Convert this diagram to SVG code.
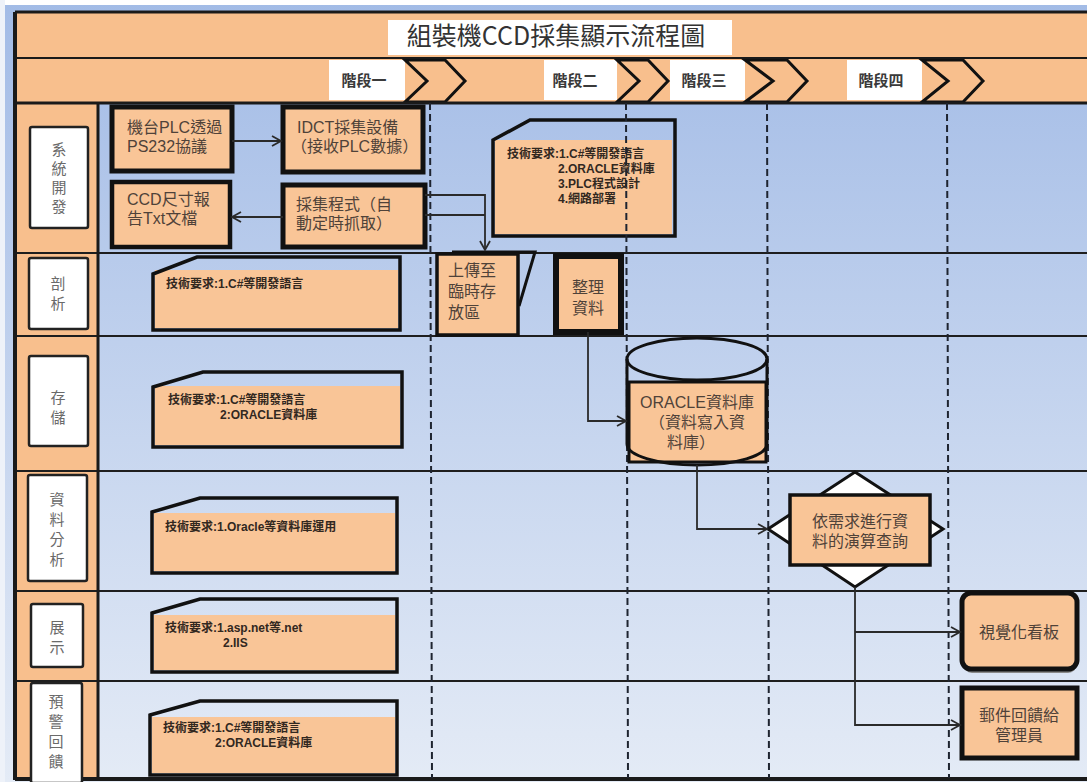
<svg xmlns="http://www.w3.org/2000/svg" width="1087" height="782" viewBox="0 0 1087 782">
<style>
.band{fill:#f8bf8d}
.org{fill:#f9c597}
.ln{stroke:#1a1a1a;fill:none}
.lane{stroke:#1e1e1e;stroke-width:2}
.dash{stroke:#1e2430;stroke-width:2;stroke-dasharray:7 4;fill:none}
.lbl{fill:#fff;stroke:#222;stroke-width:2.5}
.lt{font-family:"Liberation Sans","Noto Sans CJK TC","Noto Sans CJK SC",sans-serif;font-size:15px;fill:#6a6a6a;text-anchor:middle}
.nt{font-family:"Liberation Sans","Noto Sans CJK TC","Noto Sans CJK SC",sans-serif;font-size:16px;fill:#4f4239}
.tt{font-family:"Liberation Sans","Noto Sans CJK TC","Noto Sans CJK SC",sans-serif;font-size:12px;font-weight:700;fill:#32281f}
.ph{font-family:"Liberation Sans","Noto Sans CJK TC","Noto Sans CJK SC",sans-serif;font-size:15px;font-weight:700;fill:#3a3a3a;text-anchor:middle}
.note{fill:none;stroke:#111;stroke-width:3.5;stroke-linejoin:miter}
.box{fill:#f9c597;stroke:#111}
.chev{fill:#f8bf8d;stroke:#111;stroke-width:3;stroke-linejoin:miter}
.con{fill:none;stroke:#2a2a2a;stroke-width:1.8}
</style>
<defs>
<linearGradient id="bg" x1="0" y1="0" x2="0" y2="1">
<stop offset="0" stop-color="#a2bbe6"/>
<stop offset="1" stop-color="#e4ebf6"/>
</linearGradient>
<marker id="ah" markerUnits="userSpaceOnUse" markerWidth="14" markerHeight="14" refX="10" refY="6" orient="auto">
<path d="M1,1 L10,6 L1,11" fill="none" stroke="#2a2a2a" stroke-width="1.8"/>
</marker>
</defs>

<!-- background -->
<rect x="0" y="0" width="1087" height="782" fill="url(#bg)"/>
<rect x="0" y="0" width="1087" height="5" fill="#ffffff"/>
<rect x="0" y="0" width="5" height="782" fill="#eef2f9"/>

<!-- frame bands -->
<g id="header">
<rect class="band" x="15" y="12" width="1072" height="46"/>
<rect class="band" x="15" y="58" width="1072" height="45"/>
<rect x="388" y="20" width="344" height="35" fill="#ffffff"/>
<text x="556" y="45" font-family="'Noto Sans CJK TC','Noto Sans CJK SC',sans-serif" font-size="25" fill="#333" text-anchor="middle">組裝機CCD採集顯示流程圖</text>
</g>

<g id="phases">
<rect x="329" y="60" width="76" height="40" fill="#fff"/>
<text class="ph" x="364" y="86">階段一</text>
<polygon class="chev" points="405,60 445,60 465,81 445,102 405,102 427,81"/>
<rect x="544" y="60" width="73" height="40" fill="#fff"/>
<text class="ph" x="575" y="86">階段二</text>
<polygon class="chev" points="617,60 648,60 668,81 648,102 617,102 639,81"/>
<rect x="670" y="60" width="75" height="40" fill="#fff"/>
<text class="ph" x="704" y="86">階段三</text>
<polygon class="chev" points="745,60 787,60 807,81 787,102 745,102 773,81"/>
<rect x="847" y="60" width="75" height="40" fill="#fff"/>
<text class="ph" x="881" y="86">階段四</text>
<polygon class="chev" points="922,60 963,60 983,81 963,102 922,102 948,81"/>
</g>

<!-- lanes -->
<g id="lanes">
<rect class="band" x="15" y="103" width="83" height="676"/>
<line class="lane" x1="15" y1="253" x2="1087" y2="253"/>
<line class="lane" x1="15" y1="336" x2="1087" y2="336"/>
<line class="lane" x1="15" y1="471" x2="1087" y2="471"/>
<line class="lane" x1="15" y1="591" x2="1087" y2="591"/>
<line class="lane" x1="15" y1="681" x2="1087" y2="681"/>
<line class="ln" x1="98" y1="103" x2="98" y2="779" stroke-width="3"/>
<line class="ln" x1="15" y1="12" x2="1087" y2="12" stroke-width="3"/>
<line class="ln" x1="15" y1="58" x2="1087" y2="58" stroke-width="2"/>
<line class="ln" x1="15" y1="103" x2="1087" y2="103" stroke-width="3"/>
<line class="ln" x1="15" y1="12" x2="15" y2="780" stroke-width="4"/>
<line class="ln" x1="15" y1="779" x2="1087" y2="779" stroke-width="4"/>
</g>

<g id="lane-labels">
<g id="lbl-dev"><rect class="lbl" x="30" y="127" width="58" height="101" rx="2"/>
<text class="lt"><tspan x="59" y="155">系</tspan><tspan x="59" y="174">統</tspan><tspan x="59" y="193">開</tspan><tspan x="59" y="212">發</tspan></text></g>
<g id="lbl-parse"><rect class="lbl" x="29" y="258" width="59" height="71" rx="2"/>
<text class="lt"><tspan x="58" y="289">剖</tspan><tspan x="58" y="309">析</tspan></text></g>
<g id="lbl-store"><rect class="lbl" x="29" y="356" width="59" height="90" rx="2"/>
<text class="lt"><tspan x="58" y="403">存</tspan><tspan x="58" y="423">儲</tspan></text></g>
<g id="lbl-analysis"><rect class="lbl" x="28" y="475" width="59" height="106" rx="2"/>
<text class="lt"><tspan x="57" y="505">資</tspan><tspan x="57" y="525">料</tspan><tspan x="57" y="545">分</tspan><tspan x="57" y="565">析</tspan></text></g>
<g id="lbl-show"><rect class="lbl" x="31" y="604" width="52" height="63" rx="2"/>
<text class="lt"><tspan x="57" y="633">展</tspan><tspan x="57" y="653">示</tspan></text></g>
<g id="lbl-warn"><rect class="lbl" x="31" y="683" width="51" height="100" rx="2"/>
<text class="lt"><tspan x="56" y="707">預</tspan><tspan x="56" y="727">警</tspan><tspan x="56" y="747">回</tspan><tspan x="56" y="767">饋</tspan></text></g>
</g>

<!-- tech notes -->
<g id="note-dev">
<rect class="org" x="495" y="140" width="177" height="94"/>
<polygon class="note" points="493,140 530,120 675,120 675,236 493,236"/>
<text class="tt"><tspan x="507" y="158">技術要求:1.C#等開發語言</tspan><tspan x="558" y="173">2.ORACLE資料庫</tspan><tspan x="558" y="188">3.PLC程式設計</tspan><tspan x="558" y="203">4.網路部署</tspan></text>
</g>
<g id="note-parse">
<rect class="org" x="155" y="270" width="243" height="58"/>
<polygon class="note" points="153,274 197,257 400,257 400,330 153,330"/>
<text class="tt" x="166" y="288">技術要求:1.C#等開發語言</text>
</g>
<g id="note-store">
<rect class="org" x="155" y="386" width="245" height="59"/>
<polygon class="note" points="153,387 203,372 402,372 402,447 153,447"/>
<text class="tt"><tspan x="168" y="404">技術要求:1.C#等開發語言</tspan><tspan x="220" y="419">2:ORACLE資料庫</tspan></text>
</g>
<g id="note-analysis">
<rect class="org" x="154" y="513" width="241" height="58"/>
<polygon class="note" points="152,512 200,498 397,498 397,573 152,573"/>
<text class="tt" x="165" y="531">技術要求:1.Oracle等資料庫運用</text>
</g>
<g id="note-show">
<rect class="org" x="154" y="615" width="241" height="55"/>
<polygon class="note" points="152,613 200,599 397,599 397,672 152,672"/>
<text class="tt"><tspan x="165" y="632">技術要求:1.asp.net等.net</tspan><tspan x="223" y="647">2.IIS</tspan></text>
</g>
<g id="note-warn">
<rect class="org" x="152" y="717" width="243" height="56"/>
<polygon class="note" points="150,715 200,701 397,701 397,775 150,775"/>
<text class="tt"><tspan x="163" y="732">技術要求:1.C#等開發語言</tspan><tspan x="215" y="747">2:ORACLE資料庫</tspan></text>
</g>

<!-- phase dividers -->
<g id="dividers">
<line class="dash" x1="430" y1="103" x2="432" y2="778"/>
<line class="dash" x1="626" y1="103" x2="628" y2="778"/>
<line class="dash" x1="767" y1="103" x2="769" y2="778"/>
<line class="dash" x1="947" y1="103" x2="949" y2="778"/>
</g>

<!-- nodes -->
<g id="n-plc">
<rect class="box" x="112" y="107" width="120" height="64" stroke-width="5"/>
<text class="nt"><tspan x="127" y="133">機台PLC透過</tspan><tspan x="127" y="152">PS232協議</tspan></text>
</g>
<g id="n-idct">
<rect class="box" x="283" y="107" width="140" height="65" stroke-width="5"/>
<text class="nt"><tspan x="297" y="133">IDCT採集設備</tspan><tspan x="291" y="152">（接收PLC數據）</tspan></text>
</g>
<g id="n-ccd">
<rect class="box" x="112" y="182" width="118" height="65" stroke-width="4.5"/>
<text class="nt"><tspan x="127" y="205">CCD尺寸報</tspan><tspan x="127" y="224">告Txt文檔</tspan></text>
</g>
<g id="n-collect">
<rect class="box" x="283" y="185" width="142" height="62" stroke-width="5"/>
<text class="nt"><tspan x="296" y="210">採集程式（自</tspan><tspan x="296" y="229">動定時抓取）</tspan></text>
</g>
<g id="n-upload">
<polyline points="452,252 535,252 519,306" fill="none" stroke="#111" stroke-width="3"/>
<rect class="box" x="437" y="254" width="81" height="81" stroke-width="3.5"/>
<text class="nt"><tspan x="448" y="276">上傳至</tspan><tspan x="448" y="297">臨時存</tspan><tspan x="448" y="318">放區</tspan></text>
</g>
<g id="n-tidy">
<rect class="box" x="556" y="256" width="65" height="76" stroke-width="6"/>
<text class="nt" text-anchor="middle"><tspan x="588" y="293">整理</tspan><tspan x="588" y="314">資料</tspan></text>
</g>
<g id="n-oracle">
<rect class="box" x="629" y="382" width="137" height="80" stroke-width="3"/>
<path d="M627,359 V444 A70,21 0 0 0 767,444 V359" fill="none" stroke="#111" stroke-width="3"/>
<ellipse cx="697" cy="359" rx="70" ry="21" fill="none" stroke="#111" stroke-width="3"/>
<text class="nt" text-anchor="middle"><tspan x="697" y="408">ORACLE資料庫</tspan><tspan x="697" y="428">（資料寫入資</tspan><tspan x="691" y="448">料庫）</tspan></text>
</g>
<g id="n-query">
<polygon points="855,472 943,529 855,587 768,529" fill="#fff" stroke="#111" stroke-width="3"/>
<rect class="box" x="790" y="495" width="140" height="70" stroke-width="3.5"/>
<text class="nt" text-anchor="middle"><tspan x="860" y="527">依需求進行資</tspan><tspan x="860" y="547">料的演算查詢</tspan></text>
</g>
<g id="n-board">
<rect x="963" y="597" width="114" height="76" rx="9" fill="#8a8a8a"/>
<rect class="box" x="962" y="593" width="115" height="76" rx="9" stroke-width="5"/>
<text class="nt" x="1019" y="638" text-anchor="middle">視覺化看板</text>
</g>
<g id="n-mail">
<rect class="box" x="962" y="688" width="115" height="70" stroke-width="5"/>
<text class="nt" text-anchor="middle"><tspan x="1019" y="721">郵件回饋給</tspan><tspan x="1019" y="741">管理員</tspan></text>
</g>

<!-- connectors -->
<g id="connectors">
<path class="con" d="M232,141 H281" marker-end="url(#ah)"/>
<path class="con" d="M283,217 H232" marker-end="url(#ah)"/>
<path class="con" d="M425,195 H485 V250" marker-end="url(#ah)"/>
<path class="con" d="M425,215 H485"/>
<path class="con" d="M588,332 V421 H626" marker-end="url(#ah)"/>
<path class="con" d="M697,465 V529 H767" marker-end="url(#ah)"/>
<path class="con" d="M855,587 V725 H960" marker-end="url(#ah)"/>
<path class="con" d="M855,632 H960" marker-end="url(#ah)"/>
</g>
</svg>
